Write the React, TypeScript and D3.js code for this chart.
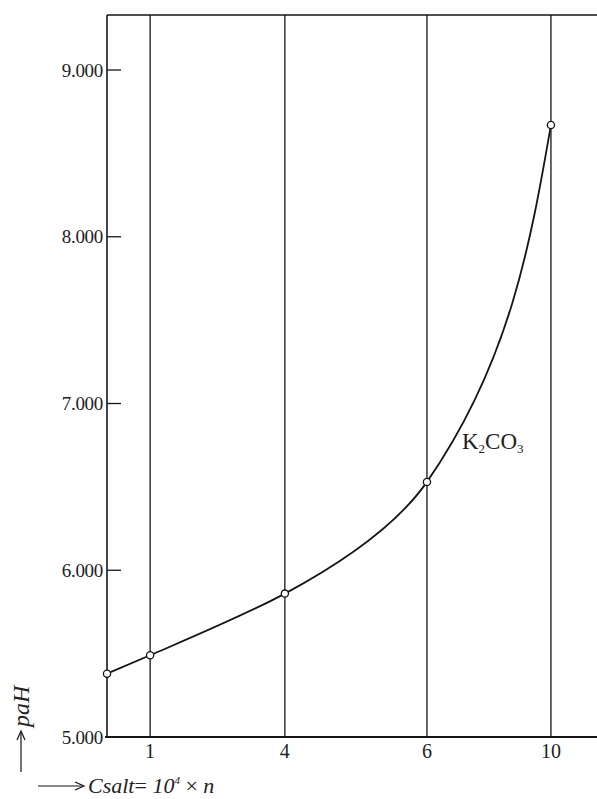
import React from "react";
import * as d3 from "d3";

// Data
const concentrations = [0, 1, 4, 6, 10];
const paHValues = [5.38, 5.49, 5.86, 6.53, 8.67];
const xTickValues = [1, 4, 6, 10];
const xTickLabels = ["1", "4", "6", "10"];
const yTickValues = [5, 6, 7, 8, 9];
const yTickLabels = ["5.000", "6.000", "7.000", "8.000", "9.000"];
const seriesName = "K2CO3";

// Layout
const W = 597;
const H = 799;
const left = 107;
const right = 597;
const top = 15;
const bottom = 737;
// non-uniform x positions of the concentration stops (fractions of plot width)
const xStopFractions = [0, 0.088, 0.363, 0.653, 0.906];
const yDomain: [number, number] = [5, 9.33];

const ink = "#151515";
const font = "'Liberation Serif', 'DejaVu Serif', serif";

export default function App() {
  const plotW = right - left;
  const x = d3
    .scaleLinear()
    .domain(concentrations)
    .range(xStopFractions.map((f) => left + f * plotW));
  const y = d3.scaleLinear().domain(yDomain).range([bottom, top]);

  const pts: [number, number][] = concentrations.map((c, i) => [x(c), y(paHValues[i])]);
  const line = d3.line().curve(d3.curveMonotoneY)(pts) || "";

  return (
    <svg
      width={W}
      height={H}
      style={{ position: "absolute", left: 0, top: 0, background: "#fff" }}
      fontFamily={font}
    >
      {/* grid verticals */}
      {xTickValues.map((v) => (
        <line key={"g" + v} x1={x(v)} x2={x(v)} y1={top} y2={bottom} stroke={ink} strokeWidth={1.3} />
      ))}
      {/* frame */}
      <line x1={left} x2={right} y1={top} y2={top} stroke={ink} strokeWidth={1.6} />
      <line x1={left} x2={left} y1={top} y2={bottom} stroke={ink} strokeWidth={1.6} />
      <line x1={left - 2} x2={right} y1={bottom} y2={bottom} stroke={ink} strokeWidth={1.8} />

      {/* y ticks */}
      {yTickValues.map((v, i) => (
        <g key={"y" + v}>
          {v > yDomain[0] && (
            <line x1={left} x2={left + 14} y1={y(v)} y2={y(v)} stroke={ink} strokeWidth={1.3} />
          )}
          <text
            x={left - 4}
            y={y(v)}
            dy="0.35em"
            textAnchor="end"
            fontSize={19}
            fill="#222"
            letterSpacing={-0.3}
          >
            {yTickLabels[i]}
          </text>
        </g>
      ))}

      {/* x tick labels */}
      {xTickValues.map((v, i) => (
        <text key={"x" + v} x={x(v)} y={bottom + 21} textAnchor="middle" fontSize={20} fill="#222">
          {xTickLabels[i]}
        </text>
      ))}

      {/* curve */}
      <path d={line} fill="none" stroke={ink} strokeWidth={1.8} />
      {pts.map((p, i) => (
        <circle key={"p" + i} cx={p[0]} cy={p[1]} r={3.6} fill="#fff" stroke={ink} strokeWidth={1.3} />
      ))}

      {/* series label */}
      <text x={x(6) + 35} y={y(6.73)} fontSize={23} fill="#222">
        K<tspan fontSize={13} dy={4}>2</tspan>
        <tspan dy={-4}>CO</tspan>
        <tspan fontSize={13} dy={4}>3</tspan>
      </text>

      {/* y axis title */}
      <g>
        <line x1={21} x2={21} y1={772} y2={733} stroke={ink} strokeWidth={1.2} />
        <path d="M17,740 L21,731 L25,740" fill="none" stroke={ink} strokeWidth={1.2} />
        <text
          transform="translate(29,727) rotate(-90)"
          fontSize={24}
          fontStyle="italic"
          fill="#222"
        >
          paH
        </text>
      </g>

      {/* x axis title */}
      <g>
        <line x1={38} x2={82} y1={786} y2={786} stroke={ink} strokeWidth={1.2} />
        <path d="M75,782 L84,786 L75,790" fill="none" stroke={ink} strokeWidth={1.2} />
        <text x={88} y={793} fontSize={22} fontStyle="italic" fill="#222">
          Csalt
          <tspan fontStyle="normal">= </tspan>
          10
          <tspan fontSize={11} dy={-9}>4</tspan>
          <tspan dy={9} fontStyle="normal"> × </tspan>
          n
        </text>
      </g>
      <title>{seriesName}</title>
    </svg>
  );
}
